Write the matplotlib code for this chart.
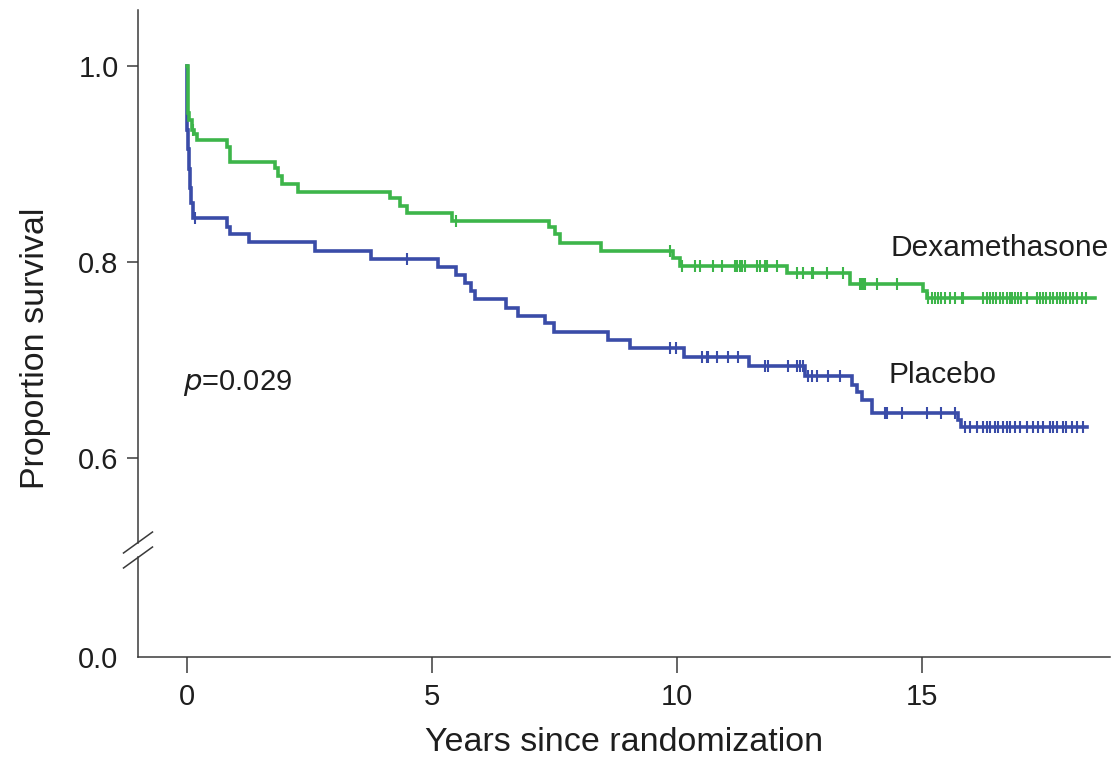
import numpy as np
import matplotlib.pyplot as plt
from matplotlib.transforms import blended_transform_factory

plt.rcParams['font.family'] = ['Liberation Sans', 'DejaVu Sans']

# Kaplan-Meier steps: time of each drop (years) and survival after it
dex_t = [0, 0.02, 0.05, 0.10, 0.15, 0.20, 0.82, 0.88, 1.80, 1.86, 1.94, 2.27,
         4.14, 4.35, 4.49, 5.41, 7.39, 7.51, 7.61, 8.45, 9.92, 10.06, 12.24,
         13.53, 15.02, 15.10, 18.53]
dex_s = [1.0, 0.952, 0.945, 0.935, 0.930, 0.924, 0.917, 0.902, 0.896, 0.888, 0.880, 0.871,
         0.865, 0.857, 0.850, 0.842, 0.836, 0.828, 0.819, 0.811, 0.804, 0.796, 0.789,
         0.777, 0.770, 0.763, 0.763]
dex_cens = [0.12, 5.49, 9.86, 10.10, 10.37, 10.47, 10.73, 10.92, 11.18, 11.22, 11.29,
            11.33, 11.39, 11.63, 11.69, 11.80, 11.84, 12.04, 12.45, 12.57, 12.76, 12.78,
            13.06, 13.39, 13.73, 13.78, 13.80, 13.84, 14.08, 14.49, 15.13, 15.20, 15.27,
            15.33, 15.40, 15.47, 15.57, 15.67, 15.81, 15.84, 16.25, 16.32, 16.39, 16.46,
            16.52, 16.59, 16.66, 16.73, 16.80, 16.83, 16.90, 16.97, 17.03, 17.14, 17.34,
            17.41, 17.48, 17.54, 17.61, 17.68, 17.75, 17.82, 17.88, 17.95, 18.02, 18.09,
            18.16, 18.26, 18.36]

pla_t = [0, 0, 0.01, 0.025, 0.04, 0.06, 0.08, 0.12, 0.82, 0.88, 1.27, 2.61, 3.76,
         5.12, 5.49, 5.67, 5.80, 5.88, 6.51, 6.76, 7.31, 7.49, 8.59, 9.04, 10.14,
         11.47, 12.61, 13.57, 13.67, 13.78, 13.98, 15.73, 15.80, 18.37]
pla_s = [1.0, 0.955, 0.935, 0.915, 0.895, 0.875, 0.86, 0.845, 0.836, 0.829, 0.820, 0.811, 0.803,
         0.795, 0.787, 0.779, 0.770, 0.762, 0.753, 0.745, 0.738, 0.729, 0.720, 0.712, 0.703,
         0.694, 0.684, 0.674, 0.667, 0.659, 0.646, 0.639, 0.632, 0.632]
pla_cens = [0.16, 4.49, 9.86, 9.98, 10.51, 10.61, 10.63, 10.82, 11.04, 11.24, 11.80, 11.86,
            12.27, 12.45, 12.51, 12.57, 12.67, 12.76, 12.86, 13.08, 13.33, 14.24, 14.28,
            14.59, 15.10, 15.40, 15.67, 15.88, 15.98, 16.12, 16.25, 16.32, 16.39, 16.49,
            16.56, 16.66, 16.73, 16.80, 16.90, 17.00, 17.14, 17.27, 17.37, 17.48, 17.61,
            17.68, 17.75, 17.88, 17.95, 18.06, 18.16, 18.29]

x_ticks = [0, 5, 10, 15]
y_ticks = [0.6, 0.8, 1.0]
y_zero_pos = 0.397   # where the "0.0" label sits below the axis break

green = '#3db54a'
blue = '#3a4ca8'
axis_col = '#3a3a3a'
text_col = '#1e1e1e'


def surv_at(times, surv, t):
    idx = np.searchsorted(times, t, side='right') - 1
    return np.asarray(surv)[idx]


fig = plt.figure(figsize=(11.17, 7.59), dpi=100)
ax = fig.add_axes([138 / 1117, 102 / 759, 972 / 1117, 647 / 759])

for t, s, cens, col in [(pla_t, pla_s, pla_cens, blue), (dex_t, dex_s, dex_cens, green)]:
    ax.step(t, s, where='post', color=col, lw=2.6, solid_joinstyle='miter')
    ax.plot(cens, surv_at(t, s, cens), ls='none', marker='|', ms=8.5, mew=1.5, color=col)

ax.set_xlim(-1.0, 18.84)
ax.set_ylim(y_zero_pos, 1.057)

ax.set_xticks(x_ticks)
ax.set_yticks(y_ticks)
ax.set_yticklabels(['%.1f' % v for v in y_ticks])
ax.set_yticks([y_zero_pos], minor=True)
ax.set_yticklabels(['0.0'], minor=True)
ax.tick_params(axis='x', length=11.5, width=1.1, color=axis_col, labelsize=21,
               labelcolor=text_col, pad=7)
ax.tick_params(axis='y', which='major', length=8, width=1.1, color=axis_col, labelsize=21,
               labelcolor=text_col, pad=6)
ax.tick_params(axis='y', which='minor', length=0, labelsize=21, labelcolor=text_col, pad=14)

for side in ['top', 'right', 'left']:
    ax.spines[side].set_visible(False)
ax.spines['bottom'].set_color(axis_col)
ax.spines['bottom'].set_linewidth(1.1)

# left spine with a break
tr = blended_transform_factory(ax.transAxes, ax.transData)
brk_lo, brk_hi = 0.4985, 0.5138
ax.plot([0, 0], [y_zero_pos, brk_lo], transform=tr, color=axis_col, lw=1.1, clip_on=False)
ax.plot([0, 0], [brk_hi, 1.057], transform=tr, color=axis_col, lw=1.1, clip_on=False)
for yc in [brk_lo, brk_hi]:
    ax.plot([-0.0149, 0.0149], [yc - 0.0107, yc + 0.0107], transform=tr,
            color=axis_col, lw=1.1, clip_on=False)

ax.set_xlabel('Years since randomization', fontsize=24.5, labelpad=12, color=text_col)
ax.set_ylabel('Proportion survival', fontsize=24.5, color=text_col)
ax.yaxis.set_label_coords(-0.09, 0.477)

ax.text(14.35, 0.814, 'Dexamethasone', fontsize=21.5, va='center', ha='left', color=text_col)
ax.text(14.31, 0.685, 'Placebo', fontsize=21.5, va='center', ha='left', color=text_col)
ax.text(-0.08, 0.677, r'$p$=0.029', fontsize=21, va='center', ha='left', color=text_col)

fig.savefig('out.png', dpi=100)
